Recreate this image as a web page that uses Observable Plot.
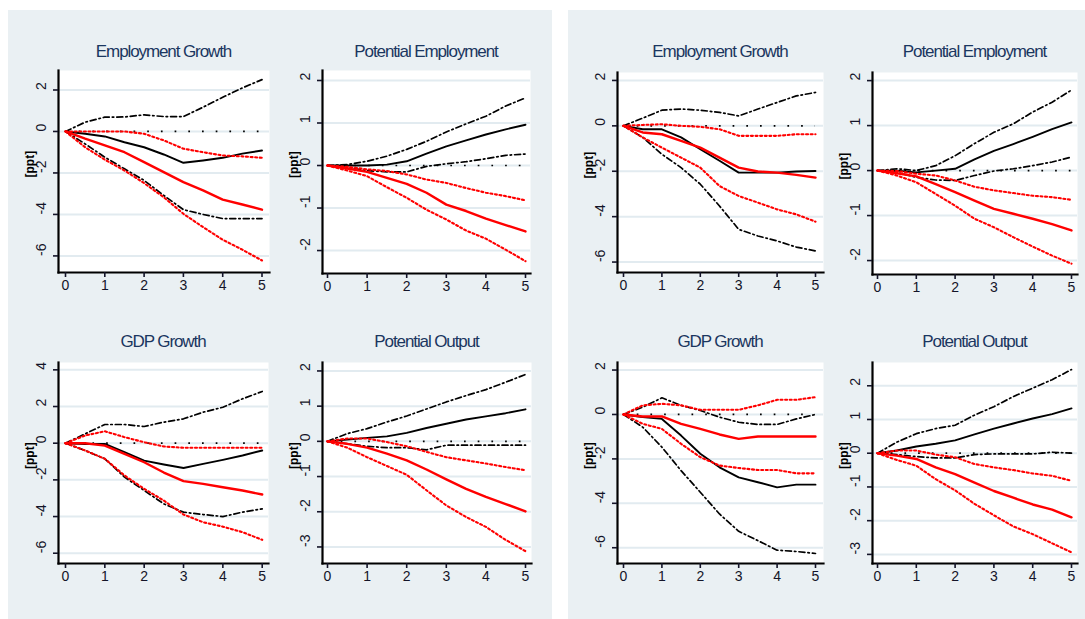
<!DOCTYPE html>
<html>
<head>
<meta charset="utf-8">
<script src="https://cdn.jsdelivr.net/npm/d3@7"></script>
<script src="https://cdn.jsdelivr.net/npm/@observablehq/plot@0.6"></script>
<style>
  body { margin: 0; background: #ffffff; }
  #chart { position: relative; width: 1085px; height: 619px; overflow: hidden; font-family: "Liberation Sans", Arial, sans-serif; }
  .panel { position: absolute; background: #eaf0f3; }
  .title { position: absolute; text-align: center; color: #1a3660; font-size: 17px; letter-spacing: -1.1px; white-space: nowrap; line-height: 18px; }
  .cell { position: absolute; }
</style>
</head>
<body>
<div id="chart"></div>
<script>
// Horizon (years after the shock)
const horizon = [0, 0.5, 1, 1.5, 2, 2.5, 3, 3.5, 4, 4.5, 5];
const xTicks = [0, 1, 2, 3, 4, 5];

// Left block — Employment Growth
const aBlackHi  = [0, 0.45, 0.69, 0.7, 0.8, 0.72, 0.72, 1.17, 1.65, 2.1, 2.5];
const aBlackEst = [0, -0.11, -0.24, -0.52, -0.76, -1.11, -1.51, -1.4, -1.27, -1.07, -0.92];
const aBlackLo  = [0, -0.6, -1.24, -1.8, -2.36, -3.08, -3.77, -4.0, -4.2, -4.2, -4.2];
const aRedHi    = [0, 0, 0, 0, -0.11, -0.43, -0.83, -1.0, -1.16, -1.2, -1.27];
const aRedEst   = [0, -0.35, -0.67, -1.0, -1.48, -1.96, -2.44, -2.84, -3.29, -3.52, -3.77];
const aRedLo    = [0, -0.76, -1.36, -1.88, -2.49, -3.17, -3.97, -4.61, -5.22, -5.7, -6.22];

// Left block — Potential Employment
const bBlackHi  = [0, 0.02, 0.1, 0.22, 0.38, 0.57, 0.79, 0.98, 1.16, 1.4, 1.59];
const bBlackEst = [0, 0, 0, 0.02, 0.1, 0.28, 0.45, 0.59, 0.73, 0.85, 0.96];
const bBlackLo  = [0, -0.05, -0.12, -0.15, -0.15, -0.02, 0.04, 0.09, 0.16, 0.24, 0.27];
const bRedHi    = [0, -0.03, -0.09, -0.13, -0.21, -0.33, -0.41, -0.53, -0.64, -0.72, -0.82];
const bRedEst   = [0, -0.07, -0.15, -0.29, -0.43, -0.64, -0.92, -1.07, -1.25, -1.4, -1.55];
const bRedLo    = [0, -0.12, -0.25, -0.51, -0.76, -1.04, -1.27, -1.53, -1.72, -1.98, -2.25];

// Left block — GDP Growth
const cBlackHi  = [0, 0.51, 1.02, 1.02, 0.91, 1.15, 1.33, 1.69, 1.96, 2.42, 2.82];
const cBlackEst = [0, -0.04, -0.04, -0.49, -0.95, -1.16, -1.35, -1.13, -0.91, -0.67, -0.4];
const cBlackLo  = [0, -0.4, -0.85, -1.85, -2.58, -3.31, -3.76, -3.89, -4.0, -3.76, -3.58];
const cRedHi    = [0, 0.42, 0.65, 0.33, 0.05, -0.18, -0.25, -0.25, -0.25, -0.25, -0.25];
const cRedEst   = [0, 0, -0.13, -0.58, -1.04, -1.6, -2.07, -2.22, -2.4, -2.58, -2.8];
const cRedLo    = [0, -0.4, -0.85, -1.76, -2.49, -3.13, -3.89, -4.31, -4.55, -4.85, -5.27];

// Left block — Potential Output
const dBlackHi  = [0, 0.22, 0.36, 0.55, 0.72, 0.92, 1.12, 1.3, 1.47, 1.68, 1.9];
const dBlackEst = [0, 0.05, 0.1, 0.14, 0.24, 0.38, 0.5, 0.62, 0.71, 0.8, 0.91];
const dBlackLo  = [0, -0.07, -0.14, -0.18, -0.18, -0.24, -0.11, -0.11, -0.11, -0.11, -0.11];
const dRedHi    = [0, 0.08, 0.08, -0.02, -0.14, -0.3, -0.45, -0.54, -0.63, -0.73, -0.82];
const dRedEst   = [0, -0.07, -0.18, -0.35, -0.54, -0.8, -1.08, -1.35, -1.58, -1.78, -1.99];
const dRedLo    = [0, -0.18, -0.45, -0.7, -0.95, -1.39, -1.82, -2.15, -2.43, -2.8, -3.12];

// Right block — Employment Growth
const eBlackHi  = [0, 0.34, 0.69, 0.74, 0.69, 0.59, 0.44, 0.74, 1.03, 1.32, 1.47];
const eBlackEst = [0, -0.15, -0.15, -0.51, -1.03, -1.54, -2.06, -2.06, -2.06, -2.01, -1.99];
const eBlackLo  = [0, -0.51, -1.25, -1.84, -2.57, -3.53, -4.56, -4.85, -5.07, -5.34, -5.51];
const eRedHi    = [0, 0.04, 0.07, 0, -0.04, -0.15, -0.44, -0.44, -0.44, -0.37, -0.37];
const eRedEst   = [0, -0.29, -0.37, -0.66, -0.96, -1.4, -1.84, -2.01, -2.06, -2.16, -2.28];
const eRedLo    = [0, -0.51, -0.96, -1.4, -1.84, -2.65, -3.09, -3.38, -3.68, -3.9, -4.22];

// Right block — Potential Employment
const fBlackHi  = [0, 0.04, 0, 0.11, 0.33, 0.6, 0.85, 1.04, 1.3, 1.52, 1.79];
const fBlackEst = [0, 0, -0.04, 0, 0.04, 0.25, 0.44, 0.59, 0.75, 0.92, 1.07];
const fBlackLo  = [0, -0.04, -0.15, -0.21, -0.22, -0.11, -0.01, 0.04, 0.11, 0.19, 0.3];
const fRedHi    = [0, -0.01, -0.07, -0.11, -0.22, -0.36, -0.44, -0.5, -0.56, -0.59, -0.65];
const fRedEst   = [0, -0.06, -0.13, -0.3, -0.48, -0.67, -0.85, -0.96, -1.07, -1.19, -1.33];
const fRedLo    = [0, -0.11, -0.26, -0.52, -0.78, -1.07, -1.26, -1.48, -1.69, -1.89, -2.07];

// Right block — GDP Growth
const gBlackHi  = [0, 0.33, 0.75, 0.41, 0.18, -0.12, -0.35, -0.45, -0.45, -0.2, 0];
const gBlackEst = [0, -0.12, -0.2, -0.95, -1.77, -2.38, -2.83, -3.05, -3.28, -3.16, -3.16];
const gBlackLo  = [0, -0.57, -1.47, -2.53, -3.5, -4.48, -5.26, -5.68, -6.11, -6.17, -6.26];
const gRedHi    = [0, 0.41, 0.48, 0.41, 0.21, 0.21, 0.21, 0.41, 0.66, 0.66, 0.78];
const gRedEst   = [0, -0.09, -0.09, -0.42, -0.65, -0.9, -1.1, -0.99, -0.99, -0.99, -0.99];
const gRedLo    = [0, -0.42, -0.65, -1.32, -1.92, -2.3, -2.41, -2.5, -2.5, -2.65, -2.65];

// Right block — Potential Output
const hBlackHi  = [0, 0.33, 0.58, 0.73, 0.83, 1.13, 1.38, 1.68, 1.93, 2.18, 2.48];
const hBlackEst = [0, 0.08, 0.2, 0.28, 0.38, 0.56, 0.73, 0.88, 1.03, 1.16, 1.33];
const hBlackLo  = [0, -0.04, -0.1, -0.14, -0.14, -0.04, -0.02, -0.02, -0.02, 0.03, 0];
const hRedHi    = [0, 0.08, 0.08, -0.04, -0.12, -0.32, -0.42, -0.5, -0.6, -0.67, -0.82];
const hRedEst   = [0, -0.07, -0.17, -0.42, -0.62, -0.87, -1.12, -1.32, -1.52, -1.67, -1.9];
const hRedLo    = [0, -0.2, -0.37, -0.77, -1.1, -1.5, -1.84, -2.17, -2.4, -2.67, -2.94];

// Titles, y ticks and y ranges of the eight graphs
const titles = ["Employment Growth", "Potential Employment", "GDP Growth", "Potential Output",
                "Employment Growth", "Potential Employment", "GDP Growth", "Potential Output"];
const yTicks = [
  [-6, -4, -2, 0, 2], [-2, -1, 0, 1, 2], [-6, -4, -2, 0, 2, 4], [-3, -2, -1, 0, 1, 2],
  [-6, -4, -2, 0, 2], [-2, -1, 0, 1, 2], [-6, -4, -2, 0, 2], [-3, -2, -1, 0, 1, 2]
];
const yDomains = [
  [-6.8, 2.94], [-2.54, 2.235], [-6.56, 4.4], [-3.47, 2.24],
  [-6.46, 2.35], [-2.31, 2.18], [-6.71, 2.34], [-3.27, 2.69]
];
const seriesSets = [
  [aBlackHi, aBlackEst, aBlackLo, aRedHi, aRedEst, aRedLo],
  [bBlackHi, bBlackEst, bBlackLo, bRedHi, bRedEst, bRedLo],
  [cBlackHi, cBlackEst, cBlackLo, cRedHi, cRedEst, cRedLo],
  [dBlackHi, dBlackEst, dBlackLo, dRedHi, dRedEst, dRedLo],
  [eBlackHi, eBlackEst, eBlackLo, eRedHi, eRedEst, eRedLo],
  [fBlackHi, fBlackEst, fBlackLo, fRedHi, fRedEst, fRedLo],
  [gBlackHi, gBlackEst, gBlackLo, gRedHi, gRedEst, gRedLo],
  [hBlackHi, hBlackEst, hBlackLo, hRedHi, hRedEst, hRedLo]
];

// Page geometry: plot regions (left axis, right edge, top, bottom axis) and x=0 / x=5 positions
const cells = [
  {left: 58,  right: 269,  top: 70, bottom: 272, x0: 65,  x5: 261.5, titleY: 52},
  {left: 322, right: 530,  top: 70, bottom: 273, x0: 327, x5: 525,   titleY: 52},
  {left: 58,  right: 268,  top: 362, bottom: 563, x0: 65, x5: 261.7, titleY: 342},
  {left: 322, right: 531,  top: 362, bottom: 563, x0: 327, x5: 525,  titleY: 342},
  {left: 617, right: 823,  top: 72, bottom: 272, x0: 623, x5: 815,   titleY: 52},
  {left: 872, right: 1077, top: 72, bottom: 274, x0: 877, x5: 1071,  titleY: 52},
  {left: 617, right: 823,  top: 362, bottom: 563, x0: 623, x5: 815,  titleY: 342},
  {left: 872, right: 1077, top: 362, bottom: 563, x0: 877, x5: 1071, titleY: 342}
];

const chart = document.getElementById("chart");

function addDiv(cls, css, text) {
  const d = document.createElement("div");
  d.className = cls;
  Object.assign(d.style, css);
  if (text != null) d.textContent = text;
  chart.appendChild(d);
  return d;
}

// Two shaded graph regions
addDiv("panel", {left: "8px", top: "10px", width: "544px", height: "609px"});
addDiv("panel", {left: "568px", top: "10px", width: "517px", height: "609px"});

const blackCI = {stroke: "#000", strokeWidth: 1.7, strokeDasharray: "6,3,1.5,3"};
const redCI = {stroke: "#ff0000", strokeWidth: 2.1, strokeDasharray: "2,2.6"};

cells.forEach((c, i) => {
  const [bHi, bEst, bLo, rHi, rEst, rLo] = seriesSets[i];
  const rows = horizon.map((h, k) => ({h, bHi: bHi[k], bEst: bEst[k], bLo: bLo[k], rHi: rHi[k], rEst: rEst[k], rLo: rLo[k]}));
  const ml = 50, mr = 4, mt = 4, mb = 30;
  const w = c.right - c.left, hgt = c.bottom - c.top;

  const svg = Plot.plot({
    width: w + ml + mr,
    height: hgt + mt + mb,
    marginLeft: ml, marginRight: mr, marginTop: mt, marginBottom: mb,
    style: {background: "transparent", fontFamily: "'Liberation Sans', Arial, sans-serif", fontSize: "13px", color: "#141428", overflow: "visible"},
    x: {domain: [0, 5], insetLeft: c.x0 - c.left, insetRight: c.right - c.x5},
    y: {domain: yDomains[i]},
    marks: [
      Plot.frame({fill: "white", stroke: null}),
      Plot.gridY(yTicks[i], {stroke: "#e2ebf0", strokeOpacity: 1, strokeWidth: 2}),
      Plot.ruleY([0], {x1: horizon[0], x2: horizon[horizon.length - 1], stroke: "#000", strokeWidth: 1.7, strokeDasharray: "1.7,12"}),
      Plot.line(rows, {x: "h", y: "bHi", ...blackCI}),
      Plot.line(rows, {x: "h", y: "bLo", ...blackCI}),
      Plot.line(rows, {x: "h", y: "bEst", stroke: "#000", strokeWidth: 1.9}),
      Plot.line(rows, {x: "h", y: "rHi", ...redCI}),
      Plot.line(rows, {x: "h", y: "rLo", ...redCI}),
      Plot.line(rows, {x: "h", y: "rEst", stroke: "#ff0000", strokeWidth: 2.4}),
      Plot.frame({anchor: "left", stroke: "#000", strokeWidth: 2.2}),
      Plot.frame({anchor: "bottom", stroke: "#000", strokeWidth: 2.2}),
      Plot.axisY({ticks: yTicks[i], tickSize: 5, strokeWidth: 1.6, tickFormat: () => "", label: null}),
      Plot.text(yTicks[i], {y: (d) => d, text: (d) => String(d), frameAnchor: "left", dx: -17, rotate: -90, fontSize: 14, fill: "#141428"}),
      Plot.axisX({ticks: xTicks, tickSize: 5, strokeWidth: 1.6, tickPadding: 3, fontSize: 14, fill: "#141428", tickFormat: (d) => String(d), label: null}),
      Plot.text(["[ppt]"], {frameAnchor: "left", dx: -28, dy: 6, rotate: -90, fontSize: 12, fontWeight: "bold", fill: "#000"})
    ]
  });

  const holder = addDiv("cell", {left: (c.left - ml) + "px", top: (c.top - mt) + "px"});
  holder.appendChild(svg);

  addDiv("title", {left: c.left + "px", width: w + "px", top: (c.titleY - 9) + "px"}, titles[i]);
});
</script>
</body>
</html>
